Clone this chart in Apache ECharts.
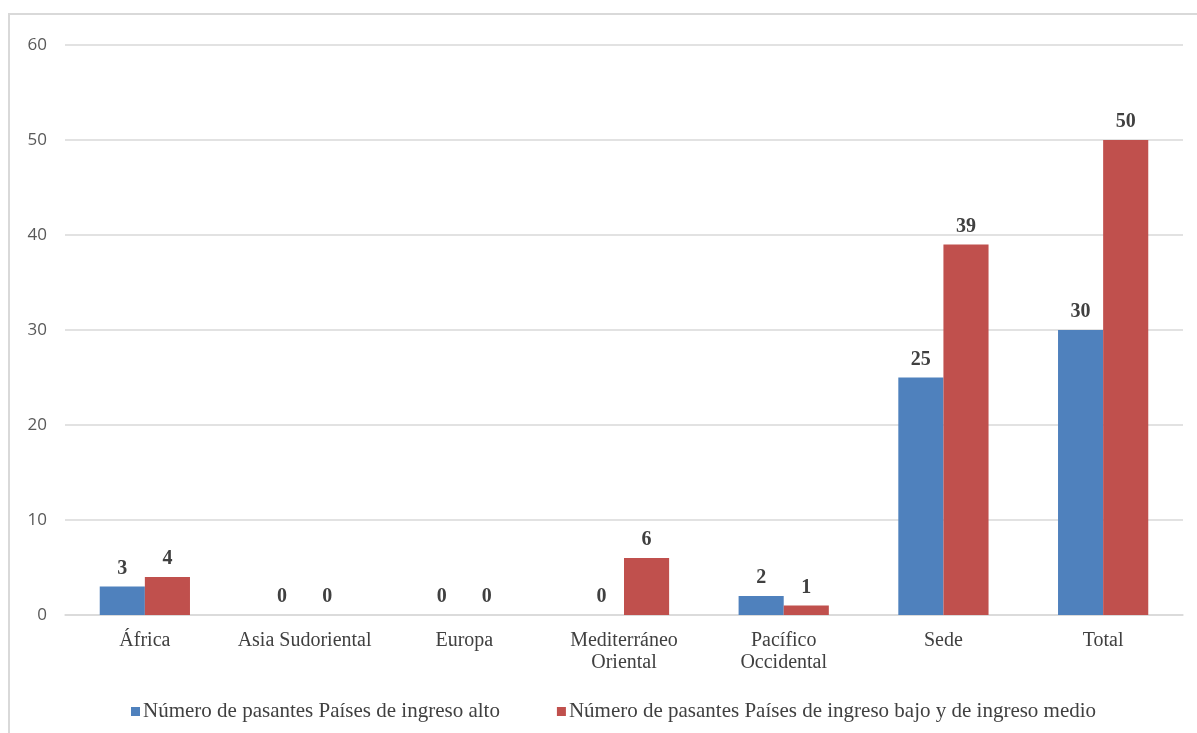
<!DOCTYPE html>
<html>
<head>
<meta charset="utf-8">
<script src="https://cdn.jsdelivr.net/npm/echarts@6/dist/echarts.min.js"></script>
<style>
  html, body { margin: 0; padding: 0; background: #fff; }
  #chart { width: 1197px; height: 733px; }
</style>
</head>
<body>
<div id="chart"></div>
<script>
// Pasantes por región de la OMS, según nivel de ingreso del país
const categories = ['África', 'Asia Sudoriental', 'Europa', 'Mediterráneo\nOriental', 'Pacífico\nOccidental', 'Sede', 'Total'];
const ingresoAlto = [3, 0, 0, 0, 2, 25, 30];
const ingresoBajoMedio = [4, 0, 0, 6, 1, 39, 50];
const seriesNames = ['Número de pasantes Países de ingreso alto', 'Número de pasantes Países de ingreso bajo y de ingreso medio'];
const yTicks = { min: 0, max: 60, interval: 10 };

const serif = '"Liberation Serif", "Times New Roman", serif';
const sans = '"Open Sans", "Liberation Sans", sans-serif';

const chart = echarts.init(document.getElementById('chart'), null, { renderer: 'canvas' });

const labelStyle = {
  show: true,
  position: 'top',
  distance: 8,
  fontFamily: serif,
  fontWeight: 'bold',
  fontSize: 20,
  color: '#404040'
};

chart.setOption({
  animation: false,
  backgroundColor: '#ffffff',
  graphic: [{
    type: 'rect',
    shape: { x: 9, y: 14, width: 1220, height: 760 },
    style: { fill: 'none', stroke: '#d9d9d9', lineWidth: 2 },
    silent: true,
    z: 0
  }],
  grid: { left: 65, right: 14, top: 45, bottom: 118, containLabel: false },
  legend: {
    left: 131,
    top: 701,
    padding: 0,
    itemWidth: 9,
    itemHeight: 9,
    itemGap: 57,
    icon: 'rect',
    textStyle: { fontFamily: serif, fontSize: 21, color: '#404040', padding: [0, 0, 0, -2] },
    data: seriesNames
  },
  xAxis: {
    type: 'category',
    data: categories,
    axisLine: { show: true, lineStyle: { color: '#d9d9d9', width: 1.5 } },
    axisTick: { show: false },
    axisLabel: {
      fontFamily: serif,
      fontSize: 20,
      color: '#404040',
      margin: 15,
      lineHeight: 22,
      interval: 0
    }
  },
  yAxis: {
    type: 'value',
    min: yTicks.min,
    max: yTicks.max,
    interval: yTicks.interval,
    axisLine: { show: false },
    axisTick: { show: false },
    splitLine: { lineStyle: { color: '#d9d9d9', width: 1.5 } },
    axisLabel: { fontFamily: sans, fontSize: 17, color: '#595959', margin: 18 }
  },
  series: [
    {
      name: seriesNames[0],
      type: 'bar',
      data: ingresoAlto,
      barGap: '0%',
      barCategoryGap: '43.5%',
      itemStyle: { color: '#4f81bd' },
      label: labelStyle
    },
    {
      name: seriesNames[1],
      type: 'bar',
      data: ingresoBajoMedio,
      barGap: '0%',
      barCategoryGap: '43.5%',
      itemStyle: { color: '#c0504d' },
      label: labelStyle
    }
  ]
});
</script>
</body>
</html>
